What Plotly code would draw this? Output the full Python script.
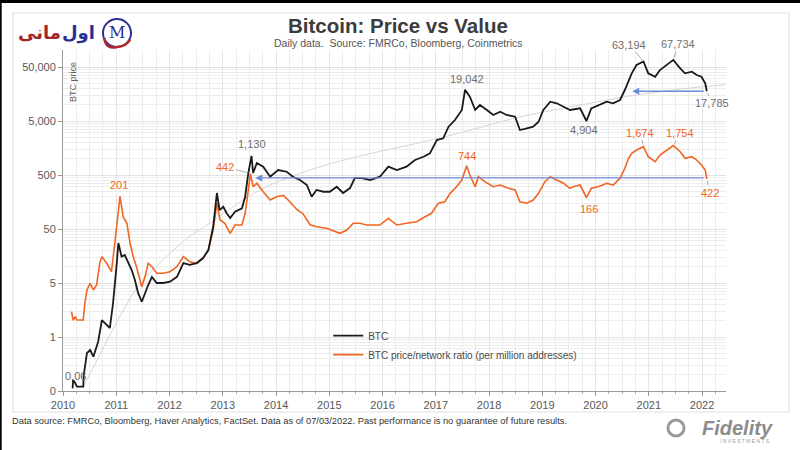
import math
import plotly.graph_objects as go

# ---------------- data ----------------
btc_years = [2010.18, 2010.19, 2010.23, 2010.26, 2010.38, 2010.39, 2010.45, 2010.51, 2010.57, 2010.63,
             2010.66, 2010.73, 2010.79, 2010.88, 2010.94, 2010.98, 2011.01, 2011.04, 2011.10, 2011.16,
             2011.23, 2011.29, 2011.35, 2011.41, 2011.48, 2011.54, 2011.60, 2011.67, 2011.76, 2011.88,
             2012.01, 2012.14, 2012.26, 2012.38, 2012.51, 2012.63, 2012.73, 2012.82, 2012.89, 2012.94,
             2013.01, 2013.07, 2013.14, 2013.23, 2013.36, 2013.42, 2013.48, 2013.54, 2013.57, 2013.64,
             2013.76, 2013.89, 2014.04, 2014.20, 2014.32, 2014.45, 2014.58, 2014.67, 2014.76, 2014.89,
             2015.01, 2015.14, 2015.26, 2015.39, 2015.48, 2015.61, 2015.77, 2015.95, 2016.11, 2016.27,
             2016.45, 2016.61, 2016.77, 2016.89, 2017.02, 2017.14, 2017.24, 2017.36, 2017.49, 2017.55,
             2017.64, 2017.74, 2017.83, 2017.96, 2018.08, 2018.21, 2018.33, 2018.49, 2018.58, 2018.71,
             2018.83, 2018.93, 2019.02, 2019.15, 2019.27, 2019.40, 2019.52, 2019.71, 2019.83, 2019.92,
             2020.05, 2020.21, 2020.33, 2020.46, 2020.55, 2020.62, 2020.68, 2020.77, 2020.90, 2020.99,
             2021.12, 2021.21, 2021.34, 2021.46, 2021.59, 2021.68, 2021.81, 2021.90, 2021.99, 2022.06,
             2022.09]
btc_values = [0.056, 0.080, 0.070, 0.060, 0.060, 0.099, 0.253, 0.287, 0.216, 0.330,
              0.409, 1.03, 0.908, 0.734, 2.13, 5.0, 11.7, 27.5, 15.4, 16.5,
              11.7, 8.7, 5.7, 3.27, 2.25, 3.27, 4.59, 6.5, 5.0, 5.0,
              5.3, 6.5, 11.7, 10.8, 11.7, 14.5, 20.4, 55, 232, 112,
              129, 99, 80, 105, 121, 198, 545, 1130, 545, 834,
              713, 465, 619, 575, 465, 404, 326, 198, 264, 245,
              245, 303, 232, 287, 440, 440, 404, 465, 713, 619,
              713, 948, 1090, 1262, 2223, 2390, 3920, 5220, 8000, 19042,
              14100, 8000, 9890, 8000, 6460, 7430, 6460, 6010, 3400, 3660,
              3920, 4850, 8000, 11400, 10640, 9200, 8000, 8590, 5000, 8590,
              9890, 11400, 10640, 12240, 18750, 28700, 38200, 54500, 63194, 38200,
              33000, 44000, 54500, 67734, 47300, 38200, 40900, 35600, 33000, 24900,
              17785]

ratio_years = [2010.16, 2010.19, 2010.23, 2010.26, 2010.38, 2010.41, 2010.45, 2010.51, 2010.57, 2010.63,
               2010.69, 2010.73, 2010.82, 2010.91, 2010.98, 2011.01, 2011.07, 2011.13, 2011.20, 2011.26,
               2011.32, 2011.38, 2011.48, 2011.54, 2011.60, 2011.67, 2011.76, 2011.88, 2012.01, 2012.14,
               2012.26, 2012.38, 2012.51, 2012.63, 2012.73, 2012.82, 2012.89, 2012.95, 2013.04, 2013.14,
               2013.23, 2013.36, 2013.42, 2013.48, 2013.52, 2013.57, 2013.64, 2013.76, 2013.89, 2014.01,
               2014.14, 2014.26, 2014.39, 2014.51, 2014.64, 2014.76, 2014.95, 2015.20, 2015.33, 2015.45,
               2015.58, 2015.70, 2015.95, 2016.11, 2016.27, 2016.45, 2016.64, 2016.80, 2016.92, 2017.05,
               2017.17, 2017.27, 2017.39, 2017.49, 2017.58, 2017.64, 2017.74, 2017.80, 2017.92, 2018.08,
               2018.21, 2018.36, 2018.49, 2018.58, 2018.71, 2018.83, 2018.93, 2019.05, 2019.15, 2019.27,
               2019.40, 2019.52, 2019.58, 2019.71, 2019.83, 2019.92, 2020.05, 2020.21, 2020.33, 2020.46,
               2020.55, 2020.62, 2020.68, 2020.77, 2020.90, 2020.99, 2021.12, 2021.21, 2021.34, 2021.46,
               2021.59, 2021.68, 2021.81, 2021.90, 2021.99, 2022.06, 2022.09]
ratio_values = [1.47, 1.03, 1.19, 1.03, 1.03, 2.10, 3.71, 4.93, 3.71, 4.59,
                11.6, 15.4, 11.6, 8.1, 31.3, 63.8, 201, 84.5, 63.8, 27.2,
                15.4, 10.0, 4.27, 6.5, 11.6, 10.0, 7.56, 7.56, 8.1, 10.0,
                15.4, 12.4, 11.6, 14.3, 20.4, 47.9, 150, 73.4, 63.8, 41.6,
                59.3, 59.3, 97.7, 264, 530, 303, 351, 245, 172, 198,
                210, 160, 115, 95, 60, 55, 51.5, 41.6, 47.9, 63.8,
                63.8, 59.3, 59.3, 78.9, 59.3, 63.8, 68.2, 84.5, 97.7, 150,
                160, 229, 303, 404, 744, 500, 303, 465, 376, 303,
                326, 284, 264, 160, 150, 172, 229, 376, 465, 404,
                351, 284, 303, 326, 190, 284, 303, 351, 326, 434,
                665, 1019, 1262, 1452, 1674, 1090, 881, 1172, 1452, 1754,
                1349, 1019, 1090, 948, 766, 619, 422]

trend_years = [2010.38, 2010.69, 2011.07, 2011.45, 2011.82, 2012.29, 2012.76, 2013.70,
               2014.64, 2015.58, 2017.08, 2018.58, 2019.52, 2020.65, 2021.77, 2022.45]
trend_values = [0.060, 0.232, 1.22, 5.0, 11.7, 31.3, 64.6, 264,
                619, 1124, 2420, 5930, 9080, 14500, 20400, 23500]

y_tick_values = [0.05, 0.5, 5, 50, 500, 5000, 50000]
y_tick_labels = ["0", "1", "5", "50", "500", "5,000", "50,000"]
x_tick_values = list(range(2010, 2023))

# value labels: (year of the point, text)
btc_labels = [(2010.19, "0.06"), (2013.54, "1,130"), (2017.55, "19,042"), (2019.83, "4,904"),
              (2020.90, "63,194"), (2021.46, "67,734"), (2022.09, "17,785")]
ratio_labels = [(2011.07, "201"), (2013.52, "442"), (2017.58, "744"), (2019.83, "166"),
                (2020.90, "1,674"), (2021.46, "1,754"), (2022.09, "422")]
# label offsets in pixels (dx, dy, leader line?)
btc_label_offsets = [(2, -4, False), (0, -12, False), (2, -11, False), (-2, 9, False),
                     (-14, -17, True), (5, -16, True), (5, 12, True)]
ratio_label_offsets = [(-1, -11, False), (-25, -7, True), (0, -10, False), (3, 11, False),
                       (-3, -14, True), (7, -13, True), (3, 14, True)]

# blue "same level" arrows: (level, arrow head year, arrow tail year)
arrows = [(17785, 2020.69, 2022.06), (442, 2013.61, 2022.06)]

# ---------------- figure ----------------
FONT = "Liberation Sans, Arial, sans-serif"
GREY_TXT = "#6e6e6e"
ORANGE = "#f26522"
BLACK = "#1a1a1a"

fig = go.Figure()
fig.add_trace(go.Scatter(x=trend_years, y=trend_values, mode="lines", line=dict(color="#d6d6d6", width=1),
                         showlegend=False, hoverinfo="skip", line_shape="spline"))
fig.add_trace(go.Scatter(x=ratio_years, y=ratio_values, mode="lines",
                         name="BTC price/network ratio (per million addresses)",
                         line=dict(color=ORANGE, width=1.6), legendrank=2))
fig.add_trace(go.Scatter(x=btc_years, y=btc_values, mode="lines", name="BTC",
                         line=dict(color=BLACK, width=1.8), legendrank=1))

minor_y = [b * k for b in y_tick_values for k in range(2, 10) if b * k < 100000]

fig.update_layout(
    width=800, height=450,
    margin=dict(l=63, r=74, t=50, b=59),
    paper_bgcolor="white", plot_bgcolor="white",
    font=dict(family=FONT, size=11, color="#555555"),
    showlegend=True,
    legend=dict(x=0.40, y=0.205, xanchor="left", yanchor="top", bgcolor="rgba(0,0,0,0)",
                font=dict(size=10, color="#4a4a4a"), itemwidth=30, tracegroupgap=4),
    hovermode=False,
    xaxis=dict(range=[2010, 2022.45], tickvals=x_tick_values, ticktext=[str(v) for v in x_tick_values],
               showgrid=True, gridcolor="#e6e6e6", gridwidth=1, zeroline=False,
               showline=True, linecolor="#9a9a9a", ticks="outside", ticklen=4, tickcolor="#9a9a9a",
               tickfont=dict(size=11, color="#595959"),
               minor=dict(dtick=0.25, tick0=2010, showgrid=True, gridcolor="#ececec", ticks="outside",
                          ticklen=2, tickcolor="#b0b0b0")),
    yaxis=dict(type="log", range=[math.log10(0.05), 5.014], tickvals=y_tick_values, ticktext=y_tick_labels,
               showgrid=True, gridcolor="#e2e2e2", zeroline=False,
               showline=True, linecolor="#9a9a9a", ticks="outside", ticklen=4, tickcolor="#9a9a9a",
               tickfont=dict(size=11, color="#595959"),
               minor=dict(tickvals=minor_y, showgrid=True, gridcolor="#ededed", ticks="")),
)


def add_labels(years, values, labels, offsets, color):
    for (yr, txt), (dx, dy, leader) in zip(labels, offsets):
        i = years.index(yr)
        ly = math.log10(values[i])
        if leader:
            fig.add_annotation(x=years[i], y=ly, xref="x", yref="y", text=txt, showarrow=True,
                               ax=dx, ay=dy, arrowhead=0, arrowwidth=0.8, arrowcolor="#9a9a9a",
                               standoff=2, font=dict(size=11, color=color, family=FONT))
        else:
            fig.add_annotation(x=years[i], y=ly, xref="x", yref="y", text=txt, showarrow=False,
                               xanchor="center", yanchor="middle",
                               xshift=dx, yshift=-dy, font=dict(size=11, color=color, family=FONT))


add_labels(btc_years, btc_values, btc_labels, btc_label_offsets, GREY_TXT)
add_labels(ratio_years, ratio_values, ratio_labels, ratio_label_offsets, ORANGE)

for level, head, tail in arrows:
    fig.add_annotation(x=head, y=math.log10(level), ax=tail, ay=math.log10(level), xref="x", yref="y",
                       axref="x", ayref="y", text="", showarrow=True, arrowhead=2, arrowsize=1,
                       arrowwidth=1.4, arrowcolor="#6d8bd8")


def note(x, y, text, size, color, family=FONT, xanchor="center", angle=0):
    fig.add_annotation(x=x, y=y, xref="paper", yref="paper", showarrow=False, text=text,
                       xanchor=xanchor, yanchor="middle", textangle=angle,
                       font=dict(size=size, color=color, family=family))


# titles and notes
note(0.5053, 1.0733, "<b>Bitcoin: Price vs Value</b>", 20.5, "#3c3c3c")
note(0.5053, 1.0205, "Daily data.  Source: FMRCo, Bloomberg, Coinmetrics", 10.5, "#555555")
note(0.015, 0.906, "BTC price", 9, "#606060", angle=-90)
note(-0.080, -0.088, "Data source: FMRCo, Bloomberg, Haver Analytics, FactSet. Data as of 07/03/2022. "
     "Past performance is no guarantee of future results.", 9.3, "#333333", xanchor="left")

# Fidelity logo
note(1.018, -0.1085, "<b><i>Fidelity</i></b>", 20, "#8c8c8c")
note(1.0287, -0.1466, "I N V E S T M E N T S", 5, "#9a9a9a")
fig.add_shape(type="circle", xref="paper", yref="paper", x0=0.9125, x1=0.9367, y0=-0.132, y1=-0.085,
              line=dict(color="#9a9a9a", width=3))

# Arabic logo (top-left)
note(0.0, 1.0499, "<b>مانی</b>", 18, "#a3262a", family="DejaVu Sans", xanchor="right")
note(0.0513, 1.0499, "<b>اول</b>", 18, "#2b2f8f", family="DejaVu Sans", xanchor="right")
fig.add_shape(type="circle", xref="paper", yref="paper", x0=0.0603, x1=0.1026, y0=1.0088, y1=1.0909,
              line=dict(color="#2b2f8f", width=2))
fig.add_shape(type="path", xref="paper", yref="paper",
              path="M 0.0620,1.0350 Q 0.0650,1.0000 0.0815,1.0088 Q 0.0960,1.0110 0.1010,1.0300",
              line=dict(color="#b3272b", width=2.5))
note(0.0815, 1.0499, "M", 16, "#2b2f8f", family="DejaVu Serif")

# frame and screen edges
fig.add_shape(type="rect", xref="paper", yref="paper", x0=-0.0754, x1=1.095, y0=-0.0616, y1=1.1085,
              line=dict(color="#e2e2e2", width=1.2), layer="below")
fig.add_shape(type="rect", xref="paper", yref="paper", x0=-0.1, x1=1.12, y0=1.138, y1=1.15,
              line=dict(width=0), fillcolor="black")
fig.add_shape(type="rect", xref="paper", yref="paper", x0=-0.1, x1=-0.0925, y0=-0.18, y1=1.15,
              line=dict(width=0), fillcolor="black")

fig.write_html("out.html", config={"displayModeBar": False},
               post_script="document.body.style.margin='0px';")
